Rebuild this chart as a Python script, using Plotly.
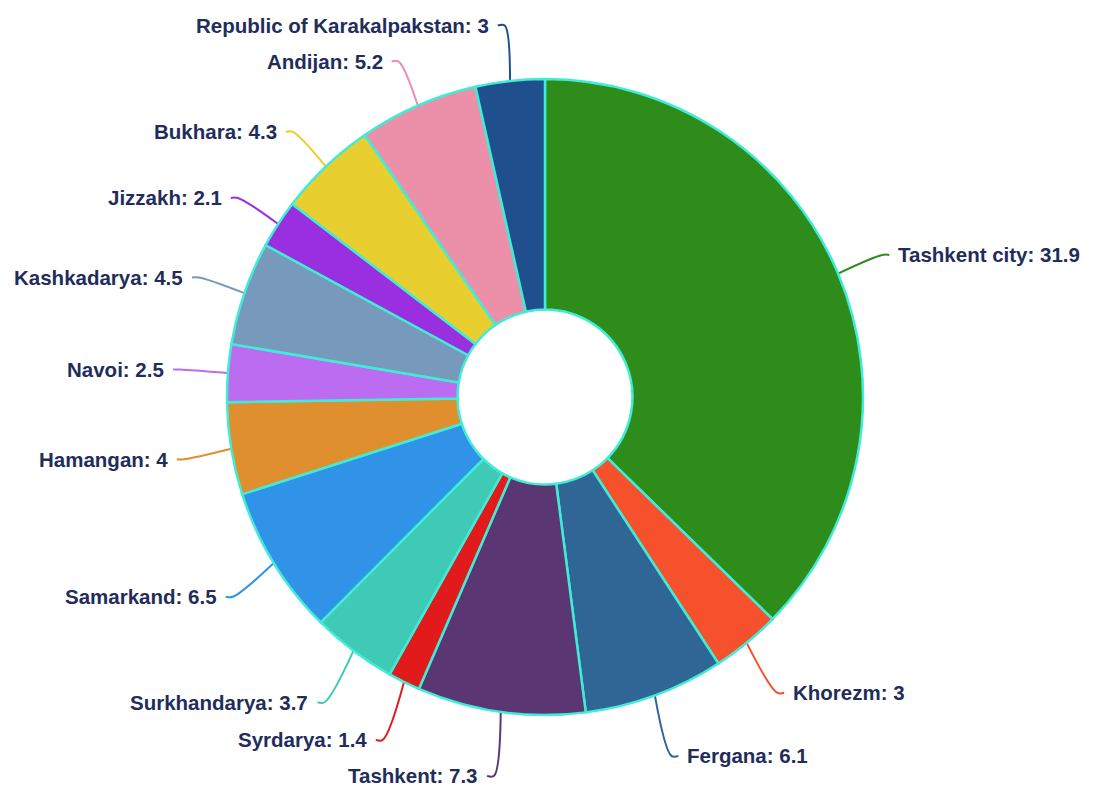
import numpy as np
import plotly.graph_objects as go

# Доли регионов (по часовой стрелке, начиная с 12 часов)
regions = ["Tashkent city", "Khorezm", "Fergana", "Tashkent", "Syrdarya",
           "Surkhandarya", "Samarkand", "Hamangan", "Navoi", "Kashkadarya",
           "Jizzakh", "Bukhara", "Andijan", "Republic of Karakalpakstan"]
values = [31.9, 3, 6.1, 7.3, 1.4, 3.7, 6.5, 4, 2.5, 4.5, 2.1, 4.3, 5.2, 3]
colors = ["#2e8c1b", "#f5512d", "#2f6696", "#5a3672", "#e11b1b",
          "#3ecab5", "#3193e8", "#e08f2e", "#bc6cf0", "#7699bc",
          "#9a2fe0", "#e8ce2e", "#ec8fa9", "#1f508d"]

W, H = 1097, 789
# страница имеет отступ body 8px, поэтому центр смещён
cx, cy, r = 537, 389, 318
TEXT = "#1f2d5b"

fig = go.Figure()

fig.add_trace(go.Pie(
    labels=regions, values=values, sort=False,
    direction="clockwise", rotation=0, hole=0.275,
    marker=dict(colors=colors, line=dict(color="#40ecd6", width=2.5)),
    textinfo="none", hoverinfo="label+value", showlegend=False,
    domain=dict(x=[(cx - r) / W, (cx + r) / W],
                y=[(H - cy - r) / H, (H - cy + r) / H]),
))

# Подписи с выносными линиями
vals = np.array(values, dtype=float)
mid = (np.cumsum(vals) - vals / 2) / vals.sum() * 2 * np.pi
R1 = r + 48
L2 = 7

cosm = np.cos(mid)
ky = np.where(cosm < 0, 1.045, 1.0)   # нижние подписи чуть дальше
ex = cx + R1 * np.sin(mid)
ey = cy - R1 * ky * cosm
side = np.where(np.sin(mid) >= 0, 1, -1)

# раздвигаем подписи от горизонтали, чтобы они не налезали друг на друга
gap = 36
for s in (1, -1):
    idx = [i for i in np.argsort(ey) if side[i] == s]
    up = [i for i in idx if ey[i] < cy][::-1]
    down = [i for i in idx if ey[i] >= cy]
    for a, b in zip(up[:-1], up[1:]):
        ey[b] = min(ey[b], ey[a] - gap)
    for a, b in zip(down[:-1], down[1:]):
        ey[b] = max(ey[b], ey[a] + gap)

for i, name in enumerate(regions):
    x0 = cx + r * np.sin(mid[i])
    y0 = cy - r * np.cos(mid[i])
    x2 = ex[i] + side[i] * L2
    fig.add_trace(go.Scatter(
        x=[x0, ex[i], x2], y=[y0, ey[i], ey[i]], mode="lines",
        line=dict(color=colors[i], width=2, shape="spline", smoothing=1),
        hoverinfo="skip", showlegend=False,
    ))
    fig.add_annotation(
        x=x2, y=ey[i], xref="x", yref="y", showarrow=False,
        text=f"{name}: {values[i]:g}",
        xanchor="left" if side[i] > 0 else "right", yanchor="middle",
        xshift=7 * side[i],
        font=dict(family="Liberation Sans", size=20.5, color=TEXT, weight="bold"),
    )

fig.update_layout(
    width=W, height=H,
    margin=dict(l=0, r=0, t=0, b=0),
    paper_bgcolor="white", plot_bgcolor="white",
    xaxis=dict(range=[0, W], visible=False, fixedrange=True),
    yaxis=dict(range=[H, 0], visible=False, fixedrange=True),
)

fig.write_html("out.html")
